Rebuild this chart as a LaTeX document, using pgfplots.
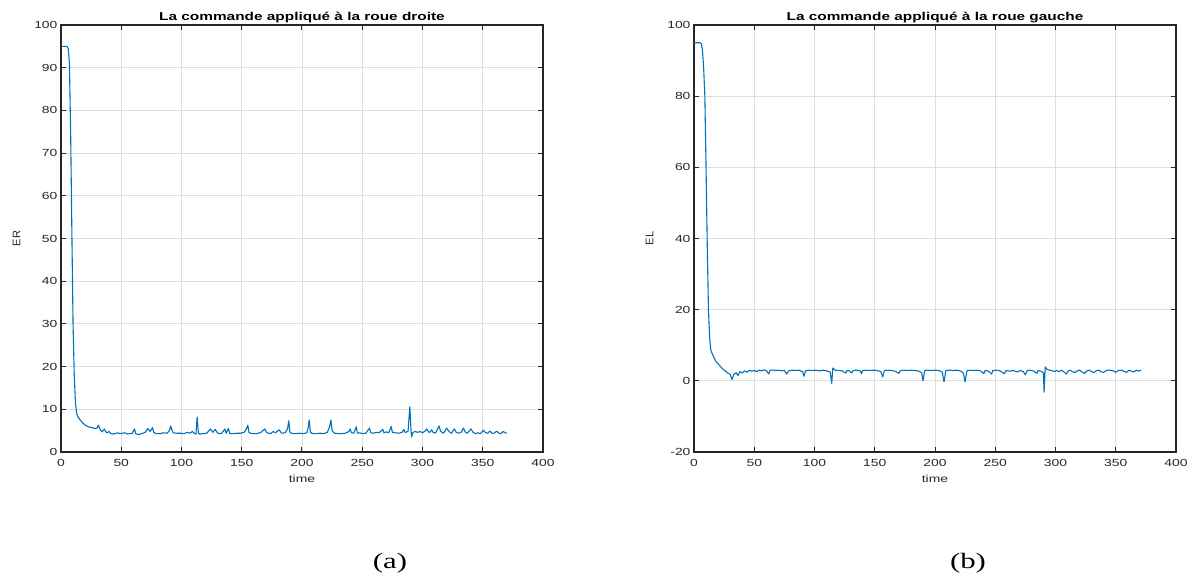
\documentclass[border=0pt]{standalone}
\usepackage{fontspec}
\setmainfont{Liberation Sans}[FakeStretch=1.35]
\newfontfamily\plainsans{Liberation Sans}
\newfontfamily\serifx{Liberation Serif}[FakeStretch=1.4]
\usepackage{pgfplots}
\pgfplotsset{compat=1.18}
\definecolor{mblue}{HTML}{0072BD}
\definecolor{axc}{HTML}{262626}
\pgfplotsset{mystyle/.style={
  scale only axis, width=482pt, height=427pt,
  xmin=0, xmax=400, xtick={0,50,...,400},
  grid=major, major grid style={draw=black!13, line width=0.8pt},
  axis line style={draw=axc, line width=1.2pt},
  tick style={draw=axc, line width=1pt},
  major tick length=5pt,
  tick align=inside,
  tick label style={font=\fontsize{10.3}{12}\selectfont, text=axc},
  xticklabel style={yshift=-4pt},
  /pgf/number format/assume math mode=true,
  label style={font=\fontsize{10.3}{12}\selectfont, text=axc},
  xlabel style={yshift=-1pt},
  ylabel style={yshift=7pt, font=\plainsans\fontsize{11}{12}\selectfont},
  title style={font=\fontsize{11.4}{12}\selectfont\bfseries, yshift=-7pt},
  xlabel={time},
  anchor=south west,
  no markers,
}}
\begin{document}
\begin{tikzpicture}[x=1pt,y=1pt]
\useasboundingbox (0,0) rectangle (1200,579);
\begin{axis}[mystyle, at={(61pt,127pt)}, ymin=0, ymax=100, ytick={0,10,...,100},
  ylabel={ER}, title={La commande appliqué à la roue droite}]
\addplot[mblue, line width=1.1pt, line join=round] coordinates {
(0,95) (5,95) (6,94.5) (7,91) (8,75) (9,52) (10,30) (11,18) (12,11.5) (13,9) (14,8.2) (16,7.5) (18,6.8) (20,6.3) (22,6.0) (24,5.8) (26,5.7) (28,5.5) (30,5.6) (31,6.3) (32,5.6) (33,5.0) (34,4.7) (36,5.4) (37,4.8) (38,4.5) (40,4.8) (41,4.4) (43,4.2) (45,4.3) (47,4.5) (49,4.3) (51,4.4) (53,4.5) (55,4.2) (57,4.3) (59,4.3) (61,5.4) (62,4.3) (64,4.1) (66,4.2) (68,4.4) (70,4.6) (72,5.5) (74,4.8) (76,5.7) (77,4.6) (79,4.3) (82,4.3) (85,4.5) (88,4.4) (90,5.0) (91,6.1) (92,5.2) (93,4.5) (96,4.4) (99,4.4) (102,4.3) (105,4.6) (107,4.4) (109,4.8) (111,4.3) (112,4.2) (113,8.2) (114,4.4) (115,4.2) (118,4.3) (121,4.4) (124,5.4) (126,4.6) (128,5.3) (130,4.4) (133,4.3) (136,5.4) (137,4.4) (139,5.5) (140,4.3) (143,4.3) (146,4.4) (149,4.4) (152,4.6) (154,5.5) (155,6.3) (156,4.6) (158,4.3) (161,4.3) (164,4.4) (166,4.6) (169,5.4) (171,4.5) (174,4.3) (176,4.8) (178,4.5) (181,5.2) (183,4.4) (186,4.5) (188,5.4) (189,7.3) (190,4.6) (192,4.3) (195,4.3) (198,4.4) (201,4.3) (204,4.5) (205,5.5) (206,7.5) (207,4.6) (209,4.3) (212,4.3) (215,4.4) (218,4.3) (221,4.6) (223,6.0) (224,7.5) (225,5.0) (227,4.4) (230,4.3) (233,4.3) (236,4.4) (239,4.8) (240,5.4) (241,4.5) (243,4.4) (245,5.9) (246,4.4) (248,4.5) (250,4.3) (253,4.4) (256,5.6) (257,4.5) (259,4.4) (262,4.6) (264,4.5) (267,5.3) (268,4.5) (270,4.7) (272,4.5) (274,6.0) (275,4.6) (277,4.5) (280,4.4) (283,4.6) (284.5,5.3) (285.5,4.6) (288,4.8) (289.5,10.6) (290.5,5.0) (291,3.5) (292,4.6) (294,4.8) (296,4.6) (298,4.8) (300,4.5) (302,4.9) (303.5,5.4) (305,4.7) (306,4.6) (307.6,5.2) (309,4.5) (311,4.5) (313.7,6.1) (315,4.9) (317,4.4) (318.5,4.8) (320,5.6) (322,4.8) (324,4.4) (326.4,5.4) (328,4.6) (330,4.4) (332,4.6) (333.9,5.6) (335.5,4.7) (337,4.4) (338.5,4.8) (340.2,5.4) (342,4.6) (344,4.3) (346,4.5) (348,4.3) (350.5,5.1) (352,4.6) (354,4.4) (356,4.9) (358,4.3) (360,4.5) (361.6,4.9) (363.5,4.4) (365,4.3) (367,4.8) (368.5,4.5) (370,4.4)
};
\end{axis}
\begin{axis}[mystyle, at={(694pt,127pt)}, ymin=-20, ymax=100, ytick={-20,0,...,100},
  ylabel={EL}, title={La commande appliqué à la roue gauche}]
\addplot[mblue, line width=1.1pt, line join=round] coordinates {
(0,95) (5,95) (6,94.8) (7,93) (8,88) (9,80) (10,60) (11,38) (12,20) (13,12) (14,8.5) (16,7.0) (18,5.5) (20,4.8) (22,4.0) (24,3.3) (26,2.8) (28,2.2) (30,1.8) (31.5,0.4) (33,1.8) (35,2.3) (36.5,1.5) (38,2.6) (40,2.2) (42,2.8) (44,2.4) (46,3.0) (48,2.7) (50,2.9) (52,2.6) (54,3.0) (56,2.8) (58,3.1) (60,2.9) (62,1.9) (63,2.9) (65,3.1) (67,2.9) (70,3.0) (73,2.8) (75,2.9) (77,1.9) (78.5,2.8) (81,3.0) (84,2.9) (87,3.0) (90,2.6) (91.3,1.3) (92.5,2.8) (95,3.0) (98,2.9) (101,3.0) (104,2.8) (107,3.0) (110,2.8) (113,2.5) (114.3,-0.7) (115.2,3.6) (117,3.0) (120,2.9) (123,2.8) (126,2.2) (127,2.9) (129,2.8) (131,2.2) (132,2.9) (135,3.0) (138,2.8) (139,2.0) (140,2.9) (143,3.0) (146,2.9) (149,3.0) (152,2.9) (155,2.6) (156.6,1.1) (158,2.9) (161,3.0) (164,2.9) (167,2.7) (170,2.1) (171,2.8) (174,3.0) (177,2.9) (180,3.0) (183,2.9) (186,2.8) (189,2.3) (190,0.0) (191.5,2.9) (194,3.0) (197,2.9) (200,3.0) (203,2.9) (206,2.5) (207.5,-0.3) (209,2.9) (212,3.0) (215,2.9) (218,3.0) (221,2.8) (223.5,2.2) (225,-0.3) (226.5,2.8) (229,3.0) (232,2.9) (235,3.0) (238,2.8) (240.5,2.0) (241.5,2.9) (244,2.8) (247,1.9) (248,2.9) (251,3.0) (254,2.8) (257.5,2.0) (259,2.9) (262,2.7) (265,2.9) (268,2.5) (271,2.9) (273.5,2.5) (275,1.7) (276.5,2.9) (279,3.0) (282,2.7) (284.5,2.1) (285.5,2.9) (288,2.7) (290,2.2) (290.5,-3.2) (291.5,3.9) (293,3.2) (295,3.0) (297,2.9) (299,2.6) (301,2.9) (303,2.6) (305,3.0) (307,2.5) (309,1.9) (310.5,2.8) (312,3.0) (314,2.6) (316,2.3) (318,2.8) (320,3.0) (322,2.5) (324,2.1) (326,2.8) (328,3.0) (330,2.6) (332,2.3) (334,2.9) (336,3.0) (338,2.5) (340,2.4) (342,2.9) (345,3.0) (348,2.8) (350,2.4) (352,2.9) (355,3.0) (357,2.6) (359,2.4) (361,3.0) (363,2.7) (365,2.5) (367,3.0) (369,2.7) (371,3.0)
};
\end{axis}
\node[font=\serifx\fontsize{22}{24}\selectfont] at (390,16) {(a)};
\node[font=\serifx\fontsize{22}{24}\selectfont] at (968,16) {(b)};
\end{tikzpicture}
\end{document}
